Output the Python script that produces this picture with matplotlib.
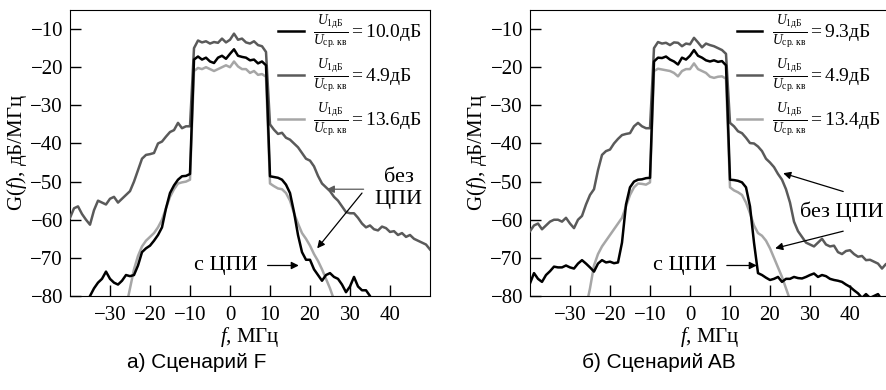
import matplotlib
matplotlib.use("Agg")
import matplotlib.pyplot as plt

#-------------------------------------------------------------------------------
# данные (дБ/МГц), отсчеты через 1 МГц от -40 до 50 МГц
#-------------------------------------------------------------------------------

f_mhz = list(range(-40, 51))

# Сценарий F
f_gray = [-59.5, -57.0, -56.5, -58.5, -60.0, -61.3, -57.5, -55.0, -55.5, -56.0,
          -54.5, -54.0, -55.5, -54.5, -53.5, -52.5, -50.0, -47.0, -44.0, -43.0,
          -42.8, -42.5, -40.0, -39.5, -38.2, -37.0, -36.5, -34.6, -36.0, -35.5,
          -35.5, -15.0, -13.0, -13.5, -13.2, -13.8, -13.4, -13.6, -12.5, -13.5,
          -12.8, -11.2, -12.8, -12.5, -13.5, -13.8, -13.2, -14.2, -14.5, -16.0,
          -35.0, -36.4, -37.5, -37.2, -38.5, -39.0, -40.0, -41.0, -42.5, -44.0,
          -44.5, -46.0, -48.5, -50.5, -51.5, -52.5, -54.0, -55.0, -56.5, -58.0,
          -58.3, -58.3, -59.5, -61.0, -62.0, -61.5, -62.5, -62.8, -61.8, -62.2,
          -63.2, -63.0, -64.0, -63.5, -64.5, -64.0, -65.0, -65.5, -66.0, -66.5,
          -67.8]
f_black = [-85.0, -85.0, -85.0, -85.0, -82.0, -80.0, -78.0, -76.5, -75.5, -73.6,
           -75.5, -76.5, -77.0, -76.0, -74.5, -74.8, -74.5, -72.0, -68.5, -67.5,
           -66.8, -65.5, -64.0, -62.0, -57.0, -53.0, -51.0, -49.5, -48.6, -48.5,
           -48.0, -18.0, -17.2, -18.0, -17.5, -18.5, -18.9, -17.5, -17.0, -17.8,
           -16.5, -15.3, -17.0, -17.3, -17.5, -18.2, -18.0, -19.0, -18.5, -19.5,
           -48.6, -48.8, -49.0, -49.5, -50.8, -53.0, -58.0, -64.0, -68.5, -70.5,
           -70.5, -73.0, -74.5, -76.0, -74.5, -74.0, -75.0, -75.5, -77.0, -79.0,
           -77.5, -75.0, -77.5, -78.5, -78.5, -80.0, -83.0, -85.0, -85.0, -85.0,
           -85.0, -85.0, -85.0, -85.0, -85.0, -85.0, -85.0, -85.0, -85.0, -85.0,
           -85.0]
f_light = [-85.0, -85.0, -85.0, -85.0, -85.0, -85.0, -85.0, -85.0, -85.0, -85.0,
           -85.0, -85.0, -85.0, -85.0, -83.0, -78.0, -73.0, -69.5, -67.0, -65.5,
           -64.5, -63.5, -62.0, -60.0, -57.0, -54.0, -52.0, -50.5, -50.2, -50.0,
           -49.5, -21.0, -20.2, -20.5, -20.0, -20.5, -21.0, -20.5, -20.0, -19.5,
           -20.0, -18.5, -19.8, -20.5, -20.5, -21.5, -21.0, -22.0, -21.8, -22.5,
           -50.5, -51.2, -51.8, -52.0, -53.0, -55.0, -58.3, -61.0, -63.5, -65.0,
           -66.8, -69.0, -70.8, -73.0, -75.5, -78.0, -81.0, -85.0, -85.0, -85.0,
           -85.0, -85.0, -85.0, -85.0, -85.0, -85.0, -85.0, -85.0, -85.0, -85.0,
           -85.0, -85.0, -85.0, -85.0, -85.0, -85.0, -85.0, -85.0, -85.0, -85.0,
           -85.0]
f_labels = ["10.0", "4.9", "13.6"]

# Сценарий AB
ab_gray = [-63.0, -61.5, -61.0, -62.5, -61.5, -60.5, -60.0, -60.0, -60.5, -59.5,
           -61.0, -62.2, -60.0, -59.0, -56.0, -53.5, -52.0, -47.0, -43.0, -42.0,
           -41.6, -40.0, -38.8, -37.8, -37.5, -37.3, -35.5, -34.6, -35.5, -36.0,
           -36.0, -15.0, -13.4, -13.8, -13.6, -14.2, -13.5, -13.6, -14.5, -13.8,
           -14.0, -12.3, -13.5, -14.8, -13.8, -14.2, -14.5, -15.0, -15.5, -16.5,
           -34.6, -35.5, -36.8, -37.3, -38.5, -39.9, -40.0, -40.8, -42.0, -44.0,
           -45.0, -46.2, -48.0, -49.5, -52.0, -55.5, -60.5, -63.0, -64.5, -66.0,
           -66.5, -67.0, -66.0, -65.0, -66.5, -67.0, -66.8, -68.5, -69.0, -68.2,
           -68.0, -69.0, -69.7, -69.5, -70.6, -70.5, -71.0, -71.5, -72.8, -71.6,
           -72.0]
ab_black = [-76.7, -74.0, -75.5, -76.3, -74.5, -73.5, -72.3, -72.5, -72.5, -72.0,
            -72.5, -72.8, -71.5, -70.6, -71.5, -72.5, -73.6, -71.5, -70.6, -71.2,
            -71.0, -71.4, -71.2, -66.0, -56.0, -51.5, -50.0, -49.5, -49.4, -49.1,
            -49.0, -18.5, -17.5, -17.6, -17.2, -18.0, -18.5, -19.3, -17.5, -18.0,
            -17.0, -15.5, -17.0, -17.5, -18.2, -18.5, -18.2, -18.6, -18.4, -19.5,
            -49.5, -49.6, -49.8, -50.2, -51.5, -56.5, -66.0, -74.0, -74.5, -75.2,
            -75.8, -75.5, -75.0, -76.3, -75.5, -75.5, -75.0, -75.3, -75.4, -75.0,
            -74.5, -74.1, -75.0, -74.5, -74.8, -75.5, -75.8, -76.0, -76.3, -77.0,
            -77.6, -78.5, -79.3, -80.5, -79.5, -80.5, -80.0, -79.5, -81.0, -80.5,
            -81.0]
ab_light = [-85.0, -85.0, -85.0, -85.0, -85.0, -85.0, -85.0, -85.0, -85.0, -85.0,
            -85.0, -85.0, -85.0, -85.0, -83.0, -78.0, -72.0, -69.0, -67.0, -65.5,
            -64.0, -62.5, -61.0, -59.5, -56.5, -53.5, -51.5, -50.5, -50.6, -50.8,
            -50.2, -21.0, -20.4, -20.6, -20.8, -21.0, -21.5, -22.4, -21.0, -20.5,
            -20.5, -19.0, -20.5, -21.0, -21.5, -22.5, -22.8, -22.5, -22.4, -23.0,
            -51.5, -52.3, -52.8, -53.5, -55.5, -58.3, -61.5, -63.5, -64.2, -65.5,
            -67.5, -70.0, -72.5, -75.0, -78.0, -81.0, -85.0, -85.0, -85.0, -85.0,
            -85.0, -85.0, -85.0, -85.0, -85.0, -85.0, -85.0, -85.0, -85.0, -85.0,
            -85.0, -85.0, -85.0, -85.0, -85.0, -85.0, -85.0, -85.0, -85.0, -85.0,
            -85.0]
ab_labels = ["9.3", "4.9", "13.4"]

captions = ["а) Сценарий F", "б) Сценарий AB"]

#-------------------------------------------------------------------------------
#-------------------------------------------------------------------------------

plt.rcParams['font.family'] = 'serif'
plt.rcParams['font.serif'] = ['Liberation Serif', 'DejaVu Serif']
plt.rcParams['mathtext.fontset'] = 'custom'
plt.rcParams['mathtext.rm'] = 'Liberation Serif'
plt.rcParams['mathtext.it'] = 'Liberation Serif:italic'
plt.rcParams['mathtext.bf'] = 'Liberation Serif:bold'

c_black = '#000000'
c_gray = '#5a5a5a'
c_light = '#a6a6a6'

fig = plt.figure(figsize=(8.87, 3.9), dpi=100)
ax1 = fig.add_axes([70 / 887, 1 - 296 / 390, 360 / 887, 286 / 390])
ax2 = fig.add_axes([530 / 887, 1 - 296 / 390, 360 / 887, 286 / 390])


def frac_label(val):
    return r'$\frac{U_{1\mathrm{дБ}}}{U_{\mathrm{ср.\,кв}}} = ' + val + r'$дБ'


for ax, yb, yg, yl, labs in [(ax1, f_black, f_gray, f_light, f_labels),
                             (ax2, ab_black, ab_gray, ab_light, ab_labels)]:
    ax.plot(f_mhz, yb, color=c_black, lw=1.8, label=frac_label(labs[0]), zorder=4)
    ax.plot(f_mhz, yg, color=c_gray, lw=1.8, label=frac_label(labs[1]), zorder=3)
    ax.plot(f_mhz, yl, color=c_light, lw=1.8, label=frac_label(labs[2]), zorder=2)
    ax.set_xlim(-40, 50)
    ax.set_ylim(-80, -5)
    ax.set_xticks([-30, -20, -10, 0, 10, 20, 30, 40])
    ax.set_yticks([-80, -70, -60, -50, -40, -30, -20, -10])
    ax.tick_params(direction='in', length=8, width=1, labelsize=15)
    ax.tick_params(axis='x', pad=7)
    ax.tick_params(axis='y', pad=5)
    ax.set_xlabel(r'$f$, МГц', fontsize=15, labelpad=0)
    ax.set_ylabel(r'G($f$), дБ/МГц', fontsize=15, labelpad=1)

ax1.legend(loc='upper right', bbox_to_anchor=(0.983, 0.995), frameon=False,
           fontsize=14, handlelength=1.3, labelspacing=0.3, borderaxespad=0.0,
           borderpad=0.1, handletextpad=0.5)
ax2.legend(loc='upper right', bbox_to_anchor=(0.978, 0.995), frameon=False,
           fontsize=14, handlelength=1.3, labelspacing=0.3, borderaxespad=0.0,
           borderpad=0.1, handletextpad=0.5)

#-------------------------------------------------------------------------------
# подписи и стрелки
#-------------------------------------------------------------------------------

arr = dict(arrowstyle='-|>', color='black', lw=0.9, mutation_scale=11, shrinkA=0, shrinkB=0)
arr_g = dict(arr, color=c_gray)

ax1.text(42.2, -51.8, 'без\nЦПИ', fontsize=16, ha='center', va='center', linespacing=1.15)
ax1.annotate('', xy=(24.2, -52.0), xytext=(33.4, -52.0), arrowprops=arr_g)
ax1.annotate('', xy=(21.8, -67.5), xytext=(33.0, -53.0), arrowprops=arr)
ax1.text(7.0, -72.0, 'с ЦПИ', fontsize=16, ha='right', va='center')
ax1.annotate('', xy=(17.2, -72.0), xytext=(9.4, -72.0), arrowprops=arr)

ax2.text(37.9, -58.0, 'без ЦПИ', fontsize=16, ha='center', va='center')
ax2.annotate('', xy=(23.3, -47.8), xytext=(38.3, -52.6), arrowprops=arr)
ax2.annotate('', xy=(21.3, -67.5), xytext=(38.3, -63.0), arrowprops=arr)
ax2.text(6.7, -72.0, 'с ЦПИ', fontsize=16, ha='right', va='center')
ax2.annotate('', xy=(16.7, -72.0), xytext=(9.2, -72.0), arrowprops=arr)

fig.text(197 / 887, 1 - 363 / 390, captions[0], fontsize=15, ha='center', va='center',
         family=['Liberation Sans', 'DejaVu Sans'])
fig.text(659 / 887, 1 - 363 / 390, captions[1], fontsize=15, ha='center', va='center',
         family=['Liberation Sans', 'DejaVu Sans'])

fig.savefig('out.png', dpi=100)
